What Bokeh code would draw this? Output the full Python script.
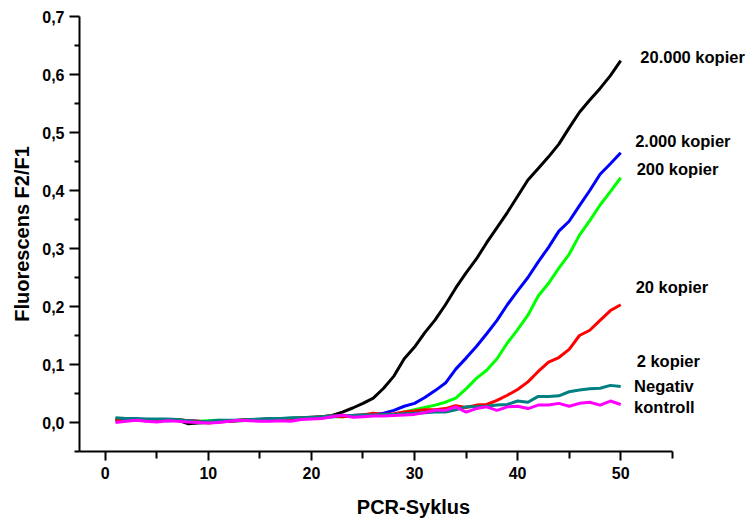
from bokeh.plotting import figure
from bokeh.models import Range1d, FixedTicker, CustomJSTickFormatter
from bokeh.core.properties import value
from bokeh.embed import file_html
from bokeh.resources import INLINE

cycles = list(range(1, 51))

black_20000 = [0.007,0.006,0.005,0.004,0.004,0.005,0.004,-0.002,-0.001,0.000,0.002,0.002,0.003,0.004,0.004,0.005,0.006,0.006,0.007,0.008,
               0.010,0.012,0.018,0.025,0.033,0.042,0.059,0.080,0.110,0.130,0.155,0.177,0.203,0.232,0.258,0.282,0.310,0.336,0.362,0.390,
               0.418,0.438,0.458,0.480,0.508,0.535,0.556,0.576,0.598,0.624]
blue_2000 = [0.002,0.004,0.004,0.003,0.004,0.003,0.004,0.003,0.002,0.001,0.002,0.003,0.004,0.004,0.005,0.006,0.006,0.007,0.007,0.008,
             0.009,0.010,0.011,0.012,0.013,0.014,0.016,0.021,0.028,0.033,0.043,0.055,0.068,0.092,0.111,0.131,0.153,0.176,0.203,0.227,
             0.250,0.277,0.302,0.330,0.347,0.374,0.400,0.428,0.446,0.465]
green_200 = [0.005,0.003,0.004,0.004,0.005,0.004,0.005,0.003,0.002,0.003,0.004,0.003,0.004,0.005,0.005,0.006,0.006,0.007,0.008,0.008,
             0.009,0.010,0.010,0.011,0.012,0.013,0.013,0.014,0.018,0.022,0.026,0.030,0.035,0.042,0.058,0.076,0.090,0.110,0.137,0.160,
             0.185,0.218,0.240,0.266,0.290,0.323,0.348,0.375,0.398,0.422]
red_20 = [0.004,0.005,0.005,0.004,0.005,0.004,0.005,0.003,0.002,-0.001,0.001,0.002,0.004,0.005,0.005,0.006,0.007,0.007,0.008,0.009,
          0.010,0.011,0.010,0.012,0.013,0.016,0.014,0.015,0.018,0.020,0.022,0.022,0.024,0.029,0.026,0.030,0.031,0.038,0.047,0.057,
          0.070,0.088,0.104,0.112,0.126,0.150,0.159,0.176,0.193,0.203]
teal_2 = [0.008,0.007,0.007,0.006,0.006,0.006,0.005,0.003,0.001,0.002,0.004,0.004,0.004,0.005,0.006,0.007,0.007,0.008,0.008,0.009,
          0.010,0.011,0.012,0.012,0.013,0.013,0.014,0.014,0.015,0.016,0.017,0.018,0.018,0.022,0.027,0.027,0.028,0.030,0.031,0.037,
          0.035,0.045,0.045,0.046,0.053,0.056,0.058,0.059,0.064,0.062]
magenta_neg = [0.000,0.002,0.004,0.002,0.001,0.003,0.002,0.001,0.000,-0.001,0.000,0.002,0.004,0.003,0.002,0.002,0.003,0.002,0.005,0.006,
               0.007,0.010,0.013,0.009,0.010,0.011,0.011,0.012,0.013,0.014,0.017,0.021,0.021,0.027,0.018,0.024,0.027,0.021,0.027,0.028,
               0.024,0.030,0.030,0.033,0.028,0.033,0.035,0.030,0.037,0.031]

series = [
    (black_20000, "#000000"),
    (green_200, "#00ff00"),
    (blue_2000, "#0000ff"),
    (red_20, "#ff0000"),
    (teal_2, "#008080"),
    (magenta_neg, "#ff00ff"),
]

label_texts = ["20.000 kopier", "2.000 kopier", "200 kopier", "20 kopier", "2 kopier", "Negativ", "kontroll"]
label_x = [51.9, 51.4, 51.55, 51.45, 51.55, 51.3, 51.3]
label_y = [0.630, 0.485, 0.437, 0.234, 0.106, 0.063, 0.026]

x_major = [0, 10, 20, 30, 40, 50]
x_minor = [5, 15, 25, 35, 45, 55]
y_major = [0.0, 0.1, 0.2, 0.3, 0.4, 0.5, 0.6, 0.7]
y_minor = [-0.05, 0.05, 0.15, 0.25, 0.35, 0.45, 0.55, 0.65]

FONT = "Liberation Sans"

p = figure(width=747, height=519, output_backend="svg", toolbar_location=None,
           x_range=Range1d(-2.5, 62.3), y_range=Range1d(-0.05, 0.7),
           min_border_left=79, min_border_right=0, min_border_top=16, min_border_bottom=68)
p.frame_width = 668
p.frame_height = 435
p.outline_line_color = None
p.xgrid.visible = False
p.ygrid.visible = False
p.background_fill_color = "white"
p.border_fill_color = "white"

for vals, col in series:
    p.line(cycles, vals, line_color=col, line_width=3)

p.text(x=label_x, y=label_y, text=label_texts, text_font=value(FONT), text_font_style="bold",
       text_font_size="16.5px", text_baseline="middle", text_align="left", text_color="black")

fmt = CustomJSTickFormatter(code="return tick.toFixed(1).replace('.', ',');")

p.xaxis.ticker = FixedTicker(ticks=x_major, minor_ticks=x_minor)
p.yaxis.ticker = FixedTicker(ticks=y_major, minor_ticks=y_minor)
p.yaxis.formatter = fmt
p.xaxis.bounds = (-2.5, 55)

for ax in (p.xaxis[0], p.yaxis[0]):
    ax.axis_line_width = 2
    ax.axis_line_color = "black"
    ax.major_tick_line_width = 2
    ax.minor_tick_line_width = 2
    ax.major_tick_line_color = "black"
    ax.minor_tick_line_color = "black"
    ax.major_tick_in = 0
    ax.minor_tick_in = 0
    ax.major_label_text_font = FONT
    ax.major_label_text_font_style = "bold"
    ax.major_label_text_font_size = "16px"
    ax.major_label_text_color = "black"
    ax.axis_label_text_font = FONT
    ax.axis_label_text_font_style = "bold"
    ax.axis_label_text_font_size = "20px"
    ax.axis_label_text_color = "black"

p.xaxis.major_tick_out = 9
p.xaxis.minor_tick_out = 7
p.yaxis.major_tick_out = 10
p.yaxis.minor_tick_out = 5
p.xaxis.major_label_standoff = 6
p.yaxis.major_label_standoff = 5
p.xaxis.axis_label = "PCR-Syklus"
p.yaxis.axis_label = "Fluorescens F2/F1"
p.xaxis.axis_label_standoff = 14
p.yaxis.axis_label_standoff = 6

open("out.html", "w").write(file_html(p, INLINE))
